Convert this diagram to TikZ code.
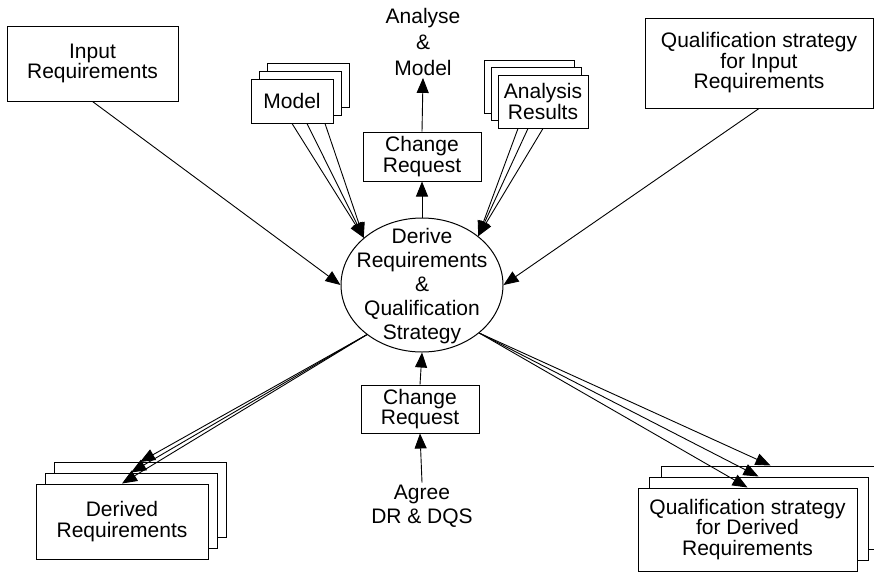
\documentclass[tikz,border=0pt]{standalone}
\usepackage{fontspec}
\setmainfont{Liberation Sans}
\usetikzlibrary{arrows.meta,shapes.geometric}
\begin{document}
\begin{tikzpicture}[x=1pt,y=-1pt,
  box/.style 2 args={draw,line width=1pt,fill=white,align=center,inner sep=0pt,
    minimum width=#1,minimum height=#2,font=\fontsize{21}{20.5}\selectfont},
  lbl/.style={align=center,inner sep=2pt},
  arr/.style={line width=0.9pt,-{Triangle[length=15pt,width=12pt]}},
  ell/.style={draw,line width=1pt,ellipse,minimum width=162pt,minimum height=134pt,inner sep=0pt}
]
\clip (0,0) rectangle (874,571);
\fill[white] (0,0) rectangle (874,571);

% Input requirements
\node[box={171pt}{75pt}] (inreq) at (92.5,63.5) {Input\\Requirements};
% Qualification strategy for input requirements
\node[box={228pt}{90pt}] (qsin) at (759,63) {Qualification strategy\\for Input\\Requirements};

% Model stack
\node[box={82pt}{44pt}] (modC) at (308,85) {};
\node[box={82pt}{44pt}] (modB) at (300,93) {};
\node[box={82pt}{44pt}] (modA) at (292,101) {Model};

% Analysis results stack
\node[box={90pt}{53pt}] (anaC) at (529,86.5) {};
\node[box={90pt}{53pt}] (anaB) at (536,94) {};
\node[box={90pt}{53pt}] (anaA) at (543,101.5) {Analysis\\Results};

% Change requests
\node[box={118pt}{49pt}] (crtop) at (422,156.5) {Change\\Request};
\node[box={118pt}{48pt}] (crbot) at (420,409) {Change\\Request};

% Free texts
\node[lbl,font=\fontsize{21}{26}\selectfont] (am) at (423,42) {Analyse\\\&\\Model};
\node[lbl,font=\fontsize{21}{24}\selectfont] (ag) at (422,506) {Agree\\DR \& DQS};

% Central ellipse
\node[ell] (el) at (422,285) {};
\node[lbl,font=\fontsize{21}{24}\selectfont] (elt) at (422,286) {Derive\\Requirements\\\&\\Qualification\\Strategy};

% Derived requirements stack
\node[box={172pt}{75pt}] (derC) at (140,500) {};
\node[box={172pt}{75pt}] (derB) at (131,510.5) {};
\node[box={172pt}{75pt}] (derA) at (122,521.5) {Derived\\Requirements};

% Qualification strategy for derived requirements stack
\node[box={219pt}{83pt}] (qdC) at (770.5,507.5) {};
\node[box={219pt}{83pt}] (qdB) at (758.5,518.5) {};
\node[box={219pt}{83pt}] (qdA) at (747.5,529.5) {Qualification strategy\\for Derived\\Requirements};

% Connectors
\draw[arr] (inreq.south) -- (el.180);
\draw[arr] (qsin.south) -- (el.0);

\draw[arr] (modA.south) -- (el.141);
\draw[arr] ([xshift=15pt]modA.south) -- (el.141);
\draw[arr] ([xshift=33pt]modA.south) -- (el.141);

\draw[arr] (anaA.south) -- (el.41);
\draw[arr] ([xshift=-15pt]anaA.south) -- (el.41);
\draw[arr] ([xshift=-25pt]anaA.south) -- (el.41);

\draw[arr] (el.north) -- (crtop.south);
\draw[arr] (crtop.north) -- (am.south);
\draw[arr] (crbot.north) -- (el.south);
\draw[arr] (ag.north) -- (crbot.south);

\draw[arr] (el.222) -- (derC.north);
\draw[arr] (el.222) -- (derB.north);
\draw[arr] (el.222) -- (derA.north);

\draw[arr] (el.320) -- (qdC.north);
\draw[arr] (el.320) -- (qdB.north);
\draw[arr] (el.320) -- (qdA.north);
\end{tikzpicture}
\end{document}
